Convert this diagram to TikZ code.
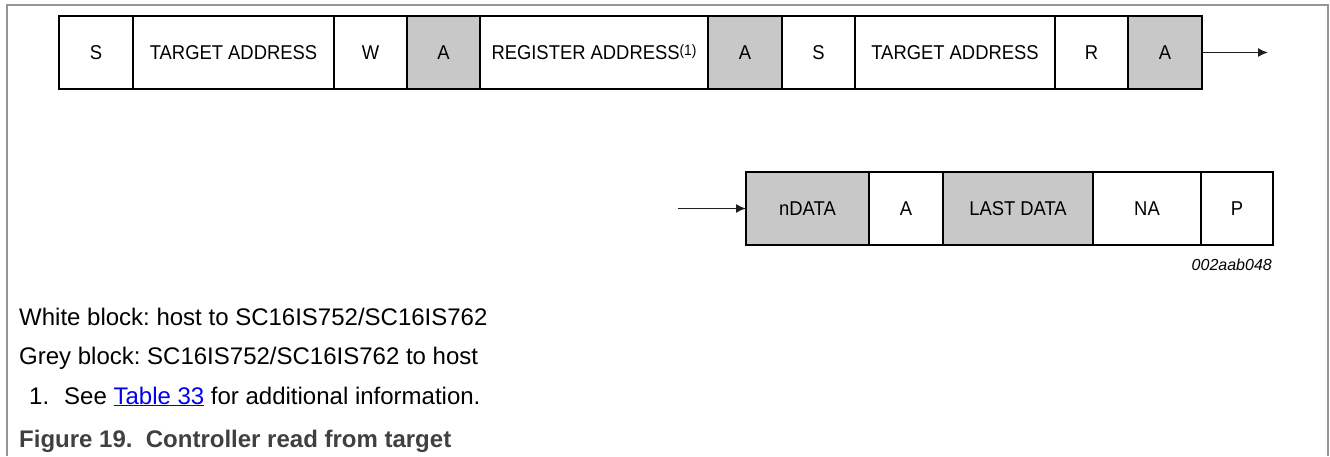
\documentclass[tikz,border=0pt]{standalone}
\usepackage{fontspec}
\setmainfont{Liberation Sans}
\newfontfamily\cellfont[FakeStretch=0.92]{Liberation Sans}
\usetikzlibrary{arrows.meta}
\definecolor{cellgrey}{RGB}{200,200,200}
\definecolor{framegrey}{RGB}{150,150,150}
\definecolor{capgrey}{RGB}{64,64,64}
\definecolor{arrowgrey}{RGB}{30,30,30}
\definecolor{linkblue}{RGB}{0,0,238}
\frenchspacing
\tikzset{
  cell/.style={draw=black, line width=2.6pt, rectangle, inner sep=0pt, outer sep=0pt,
    minimum height=73pt, anchor=west, font=\cellfont\fontsize{20}{22}\selectfont, text=black},
  gcell/.style={cell, fill=cellgrey},
  wcell/.style={cell, fill=white},
  arr/.style={draw=arrowgrey, line width=1.6pt, -{Latex[length=10pt,width=9pt]}},
  body/.style={anchor=base west, inner sep=0pt, font=\fontsize{24}{26}\selectfont},
}
\begin{document}
\begin{tikzpicture}[x=1pt,y=-1pt]
\useasboundingbox (0,0) rectangle (1330,456);
% frame
\draw[framegrey, line width=1.3pt] (7,456) -- (7,5) -- (1328,5) -- (1328,456);
% top row
\node[wcell, minimum width=74pt]  (a1)  at (59,52.5)  {S};
\node[wcell, minimum width=201pt] (a2)  at (133,52.5) {TARGET ADDRESS};
\node[wcell, minimum width=73pt]  (a3)  at (334,52.5) {W};
\node[gcell, minimum width=73pt]  (a4)  at (407,52.5) {A};
\node[wcell, minimum width=228pt] (a5)  at (480,52.5) {REGISTER ADDRESS\raisebox{4pt}{\fontsize{15}{15}\selectfont(1)}};
\node[gcell, minimum width=74pt]  (a6)  at (708,52.5) {A};
\node[wcell, minimum width=73pt]  (a7)  at (782,52.5) {S};
\node[wcell, minimum width=200pt] (a8)  at (855,52.5) {TARGET ADDRESS};
\node[wcell, minimum width=73pt]  (a9)  at (1055,52.5) {R};
\node[gcell, minimum width=74pt]  (a10) at (1128,52.5) {A};
\coordinate (aend) at (1268,52.5);
\draw[arr] (a10.east) -- (aend);
% bottom row
\node[gcell, minimum width=123pt] (b1) at (746,208.5) {nDATA};
\node[wcell, minimum width=74pt]  (b2) at (869,208.5) {A};
\node[gcell, minimum width=150pt] (b3) at (943,208.5) {LAST DATA};
\node[wcell, minimum width=108pt] (b4) at (1093,208.5) {NA};
\node[wcell, minimum width=72pt]  (b5) at (1201,208.5) {P};
\coordinate (bstart) at (678,208.5);
\draw[arr] (bstart) -- (b1.west);
% figure id
\node[anchor=base east, inner sep=0pt, font=\itshape\fontsize{16}{18}\selectfont] (fid) at (1272,270) {002aab048};
% legend texts
\node[body] (t1) at (19,325) {White block: host to SC16IS752/SC16IS762};
\node[body] (t2) at (19,364) {Grey block: SC16IS752/SC16IS762 to host};
\node[body] (t3) at (29,404) {1.};
\node[body] (t4) at (64,404) {See \textcolor{linkblue}{\underline{Table 33}} for additional information.};
\node[body, font=\bfseries\fontsize{24}{26}\selectfont, text=capgrey] (t5) at (19,447) {Figure 19.\ \ Controller read from target};
\end{tikzpicture}
\end{document}
